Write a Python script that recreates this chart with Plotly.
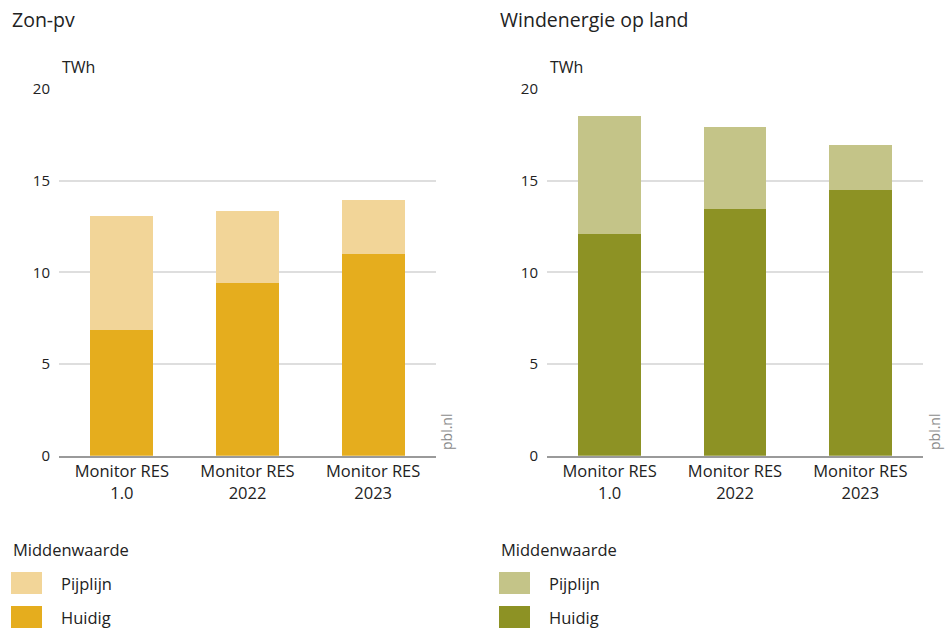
import plotly.graph_objects as go

categories = ["Monitor RES<br>1.0", "Monitor RES<br>2022", "Monitor RES<br>2023"]
zon_huidig = [6.85, 9.4, 11.0]
zon_pijplijn = [6.2, 3.95, 2.95]
wind_huidig = [12.1, 13.45, 14.5]
wind_pijplijn = [6.45, 4.5, 2.45]
series_names = ["Pijplijn", "Huidig"]
panel_titles = ["Zon-pv", "Windenergie op land"]
unit = "TWh"
legend_title = "Middenwaarde"
y_ticks = [0, 5, 10, 15, 20]
credit = "pbl.nl"

zon_colors = {"Huidig": "#E5AD1E", "Pijplijn": "#F2D598"}
wind_colors = {"Huidig": "#8D9224", "Pijplijn": "#C4C488"}

W, H = 945, 628
FONT = "Open Sans"
TXT = "#222222"

fig = go.Figure()
fig.add_trace(go.Bar(x=categories, y=zon_huidig, name="Huidig", marker_color=zon_colors["Huidig"],
                     marker_line_width=0, xaxis="x", yaxis="y", showlegend=False))
fig.add_trace(go.Bar(x=categories, y=zon_pijplijn, name="Pijplijn", marker_color=zon_colors["Pijplijn"],
                     marker_line_width=0, xaxis="x", yaxis="y", showlegend=False))
fig.add_trace(go.Bar(x=categories, y=wind_huidig, name="Huidig", marker_color=wind_colors["Huidig"],
                     marker_line_width=0, xaxis="x2", yaxis="y2", showlegend=False))
fig.add_trace(go.Bar(x=categories, y=wind_pijplijn, name="Pijplijn", marker_color=wind_colors["Pijplijn"],
                     marker_line_width=0, xaxis="x2", yaxis="y2", showlegend=False))

y0 = 1 - 455.7 / H
y1 = 1 - 89 / H
axis_common_x = dict(showgrid=False, showline=True, linecolor="#9a9a9a", linewidth=1.5,
                     ticks="", tickfont=dict(family=FONT, size=16.5, color=TXT), fixedrange=True,
                     automargin=False)
axis_common_y = dict(range=[0, 20], tickvals=y_ticks, showgrid=True, gridcolor="#dedede", gridwidth=1.5,
                     zeroline=False, showline=False, ticks="", ticklabelstandoff=8, automargin=False,
                     tickfont=dict(family=FONT, size=15, color=TXT), fixedrange=True)

fig.update_layout(
    width=W, height=H, autosize=False,
    margin=dict(l=0, r=0, t=0, b=0, pad=0),
    paper_bgcolor="white", plot_bgcolor="white",
    barmode="stack", bargap=0.5,
    font=dict(family=FONT, color=TXT),
    xaxis=dict(domain=[59 / W, 436 / W], anchor="y", **axis_common_x),
    yaxis=dict(domain=[y0, y1], anchor="x", **axis_common_y),
    xaxis2=dict(domain=[547 / W, 923 / W], anchor="y2", **axis_common_x),
    yaxis2=dict(domain=[y0, y1], anchor="x2", **axis_common_y),
)

annotations = []
shapes = []
panels = [(10, 60, 446, zon_colors), (498, 548, 934, wind_colors)]
for (tx, ux, cx, cols), title in zip(panels, panel_titles):
    annotations.append(dict(text=title, x=tx / W, y=1 - 20 / H, xref="paper", yref="paper",
                            xanchor="left", yanchor="middle", showarrow=False,
                            font=dict(family=FONT, size=19.5, color=TXT)))
    annotations.append(dict(text=unit, x=ux / W, y=1 - 67 / H, xref="paper", yref="paper",
                            xanchor="left", yanchor="middle", showarrow=False,
                            font=dict(family=FONT, size=16, color=TXT)))
    annotations.append(dict(text=credit, x=cx / W, y=1 - 432 / H, xref="paper", yref="paper",
                            xanchor="center", yanchor="middle", showarrow=False, textangle=-90,
                            font=dict(family=FONT, size=14, color="#8a8a8a")))
    annotations.append(dict(text=legend_title, x=(tx + 1) / W, y=1 - 549 / H, xref="paper", yref="paper",
                            xanchor="left", yanchor="middle", showarrow=False,
                            font=dict(family=FONT, size=16.5, color=TXT)))
    for i, name in enumerate(series_names):
        top = 572 + i * 34
        shapes.append(dict(type="rect", xref="paper", yref="paper",
                           x0=(tx + 1) / W, x1=(tx + 32) / W, y0=1 - (top + 22) / H, y1=1 - top / H,
                           fillcolor=cols[name], line_width=0))
        annotations.append(dict(text=name, x=(tx + 49) / W, y=1 - (top + 11) / H, xref="paper", yref="paper",
                                xanchor="left", yanchor="middle", showarrow=False,
                                font=dict(family=FONT, size=16.5, color=TXT)))

fig.update_layout(annotations=annotations, shapes=shapes)
fig.write_html("out.html", config={"responsive": False, "displayModeBar": False},
               post_script="document.body.style.margin='0px';document.body.style.overflow='hidden';")
